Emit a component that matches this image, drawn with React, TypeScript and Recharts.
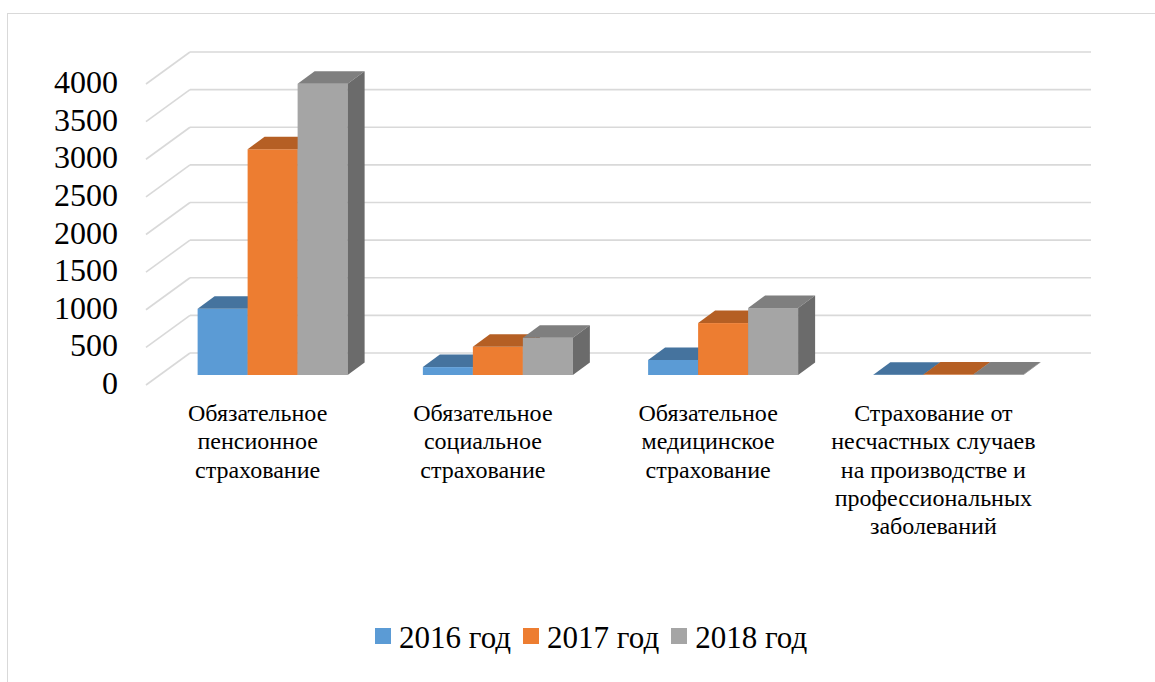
import React from 'react';
import { BarChart, Bar, XAxis, YAxis, CartesianGrid, Legend } from 'recharts';

const categories = [
  'Обязательное\nпенсионное\nстрахование',
  'Обязательное\nсоциальное\nстрахование',
  'Обязательное\nмедицинское\nстрахование',
  'Страхование от\nнесчастных случаев\nна производстве и\nпрофессиональных\nзаболеваний',
];
const seriesNames = ['2016 год', '2017 год', '2018 год'];
const values2016 = [880, 105, 200, 4];
const values2017 = [3000, 375, 690, 6];
const values2018 = [3870, 495, 890, 8];
const yTicks = [0, 500, 1000, 1500, 2000, 2500, 3000, 3500, 4000];

const FRONT = ['#5B9BD5', '#ED7D31', '#A5A5A5'];
const TOP = ['#45739E', '#B55F24', '#7F7F7F'];
const SIDE = ['#3B6590', '#A45620', '#6B6B6B'];

const data = categories.map((name, i) => ({
  name,
  s2016: values2016[i],
  s2017: values2017[i],
  s2018: values2018[i],
}));

const FONT = "'Liberation Serif', serif";
const GRID = '#d9d9d9';
// 3D offsets relative to the bar front plane
const DX = 17;
const DY = 12.5;
const BACK_X = 30;
const BACK_Y = -22;
const FRONT_X = -14;
const FRONT_Y = 10;

const makeBar = (idx: number) => (props: any) => {
  const { x, y, width, height } = props;
  if (x == null || y == null) return <g />;
  const x2 = x + width;
  const yb = y + height;
  return (
    <g>
      <rect x={x} y={y} width={width} height={Math.max(height, 0)} fill={FRONT[idx]} />
      <polygon
        points={`${x},${y} ${x + DX},${y - DY} ${x2 + DX},${y - DY} ${x2},${y}`}
        fill={TOP[idx]}
      />
      <polygon
        points={`${x2},${y} ${x2 + DX},${y - DY} ${x2 + DX},${yb - DY} ${x2},${yb}`}
        fill={SIDE[idx]}
      />
    </g>
  );
};

const GridLine3D = (props: any) => {
  const { x1, x2, y1, index } = props;
  return (
    <g key={`g3d-${index}`}>
      <line
        x1={x1 + FRONT_X}
        y1={y1 + FRONT_Y}
        x2={x1 + BACK_X}
        y2={y1 + BACK_Y}
        stroke={GRID}
        strokeWidth={1.6}
      />
      <line
        x1={x1 + BACK_X}
        y1={y1 + BACK_Y}
        x2={x2 + BACK_X}
        y2={y1 + BACK_Y}
        stroke={GRID}
        strokeWidth={1.6}
      />
    </g>
  );
};

const YTick = (props: any) => {
  const { x, y, payload } = props;
  return (
    <text
      x={x - 42}
      y={y + 8}
      textAnchor="end"
      dominantBaseline="central"
      style={{ fontFamily: FONT, fontSize: 32 }}
      fill="#000"
    >
      {payload.value}
    </text>
  );
};

const XTick = (props: any) => {
  const { x, y, payload } = props;
  const lines = String(payload.value).split('\n');
  return (
    <g>
      {lines.map((ln, i) => (
        <text
          key={i}
          x={x - 15}
          y={y + 38 + i * 28.3}
          textAnchor="middle"
          dominantBaseline="central"
          style={{ fontFamily: FONT, fontSize: 24 }}
          fill="#000"
        >
          {ln}
        </text>
      ))}
    </g>
  );
};

const LegendContent = (props: any) => {
  const { payload } = props;
  return (
    <div style={{ display: 'flex', alignItems: 'center', fontFamily: FONT, fontSize: 31, lineHeight: '30px', whiteSpace: 'nowrap' }}>
      {(payload || []).map((p: any, i: number) => (
        <div key={i} style={{ display: 'flex', alignItems: 'center', marginRight: 12 }}>
          <span
            style={{
              display: 'inline-block',
              width: 16,
              height: 16,
              background: FRONT[i],
              marginRight: 8,
              position: 'relative',
              top: -2,
            }}
          />
          <span style={{ color: '#000' }}>{p.value}</span>
        </div>
      ))}
    </div>
  );
};

export default function App() {
  return (
    <div
      style={{
        position: 'absolute',
        left: 0,
        top: 0,
        width: 1155,
        height: 682,
        overflow: 'hidden',
        background: '#fff',
        fontFamily: FONT,
      }}
    >
      <div
        style={{
          position: 'absolute',
          left: 7,
          top: 13,
          width: 1300,
          height: 800,
          border: '1px solid #d9d9d9',
        }}
      />
      <div style={{ position: 'absolute', left: 0, top: 0 }}>
        <BarChart
          width={1155}
          height={682}
          data={data}
          margin={{ top: 74, right: 94, bottom: 107, left: 100 }}
          barCategoryGap="16.7%"
          barGap={0}
          style={{ fontFamily: FONT }}
        >
          <CartesianGrid vertical={false} horizontal={GridLine3D} />
          <XAxis
            dataKey="name"
            axisLine={false}
            tickLine={false}
            tickSize={0}
            tickMargin={0}
            height={200}
            interval={0}
            tick={XTick}
          />
          <YAxis
            domain={[0, 4000]}
            ticks={yTicks}
            axisLine={false}
            tickLine={false}
            tickSize={0}
            tickMargin={0}
            width={60}
            tick={YTick}
          />
          <Legend
            layout="horizontal"
            verticalAlign="middle"
            align="center"
            wrapperStyle={{ top: 623, left: 375, width: 600, height: 30 }}
            content={LegendContent}
          />
          <Bar dataKey="s2016" name={seriesNames[0]} fill={FRONT[0]} shape={makeBar(0)} isAnimationActive={false} />
          <Bar dataKey="s2017" name={seriesNames[1]} fill={FRONT[1]} shape={makeBar(1)} isAnimationActive={false} />
          <Bar dataKey="s2018" name={seriesNames[2]} fill={FRONT[2]} shape={makeBar(2)} isAnimationActive={false} />
        </BarChart>
      </div>
    </div>
  );
}
